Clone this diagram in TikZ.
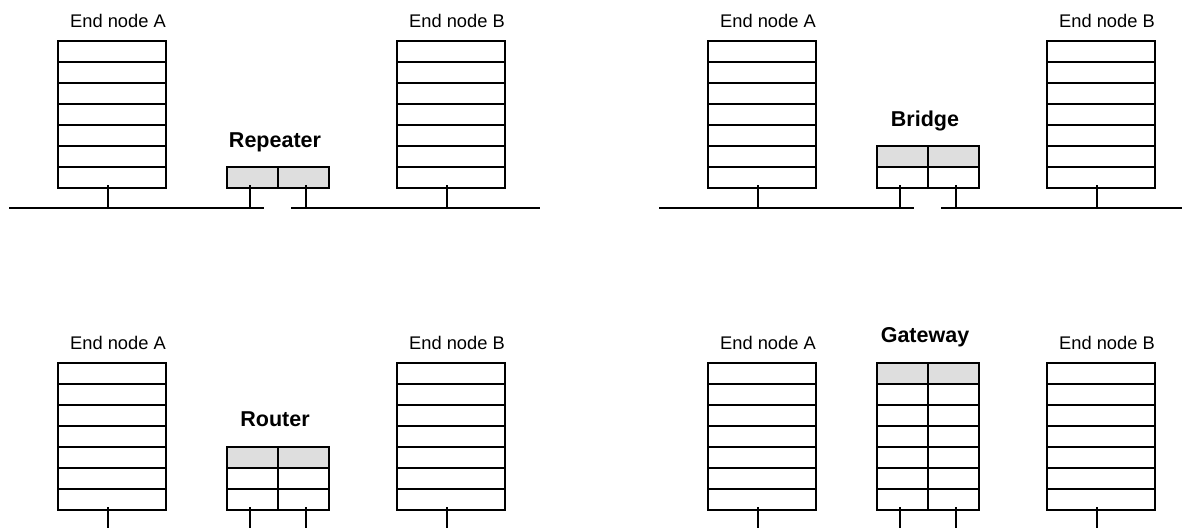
\documentclass[tikz,border=0pt]{standalone}
\usepackage{fontspec}
\setmainfont{Liberation Sans}
\tikzset{
 cell/.style={draw=black, line width=2pt, fill=white, inner sep=0pt, outer sep=0pt, minimum width=108pt, minimum height=21pt, anchor=north west},
 dcell/.style={cell, minimum width=51pt},
 wire/.style={line width=2pt},
 endlabel/.style={font=\fontsize{18.3}{20}\selectfont, anchor=base, inner sep=0pt},
 devlabel/.style={font=\bfseries\fontsize{21.5}{24}\selectfont, anchor=base, inner sep=0pt},
}
\begin{document}
\begin{tikzpicture}[x=1pt,y=-1pt]
\useasboundingbox (0,0) rectangle (1182,527);
\foreach \dx/\dy/\n/\lab/\id in {0/0/1/Repeater/p, 650/0/2/Bridge/q, 0/321.5/3/Router/r, 650/321.5/7/Gateway/s}{
 \begin{scope}[shift={(\dx,\dy)}]
  % end node stacks
  \foreach \k in {1,...,7}{
    \node[cell] (\id A\k) at (58,{41+(\k-1)*21}) {};
    \node[cell] (\id B\k) at (397,{41+(\k-1)*21}) {};
  }
  \node[endlabel] (\id ta) at (118,27.5) {End node A};
  \node[endlabel] (\id tb) at (457,27.5) {End node B};
  % device
  \foreach \k in {1,...,\n}{
    \pgfmathsetmacro\yy{188-(\n-\k+1)*21}
    \ifnum\k=1 \def\fc{black!13}\else\def\fc{white}\fi
    \node[dcell, fill=\fc] (\id L\k) at (227,\yy) {};
    \node[dcell, fill=\fc] (\id R\k) at (278,\yy) {};
  }
  \node[devlabel] (\id lab) at (275,{188-\n*21-20}) {\lab};
  % bus
  \coordinate (\id b1) at (9,208);
  \coordinate (\id b2) at (264,208);
  \coordinate (\id b3) at (291,208);
  \coordinate (\id b4) at (540,208);
  \draw[wire] (\id b1) -- (\id b2);
  \draw[wire] (\id b3) -- (\id b4);
  % ticks
  \coordinate (\id ka) at (108,208);
  \coordinate (\id kl) at (250,208);
  \coordinate (\id kr) at (306,208);
  \coordinate (\id kb) at (447,208);
  \draw[wire, shorten >=-3pt] (\id ka) -- (\id ka |- \id A7.south);
  \draw[wire, shorten >=-3pt] (\id kb) -- (\id kb |- \id B7.south);
  \draw[wire, shorten >=-3pt] (\id kl) -- (\id kl |- \id L\n.south);
  \draw[wire, shorten >=-3pt] (\id kr) -- (\id kr |- \id R\n.south);
 \end{scope}
}
\end{tikzpicture}
\end{document}
